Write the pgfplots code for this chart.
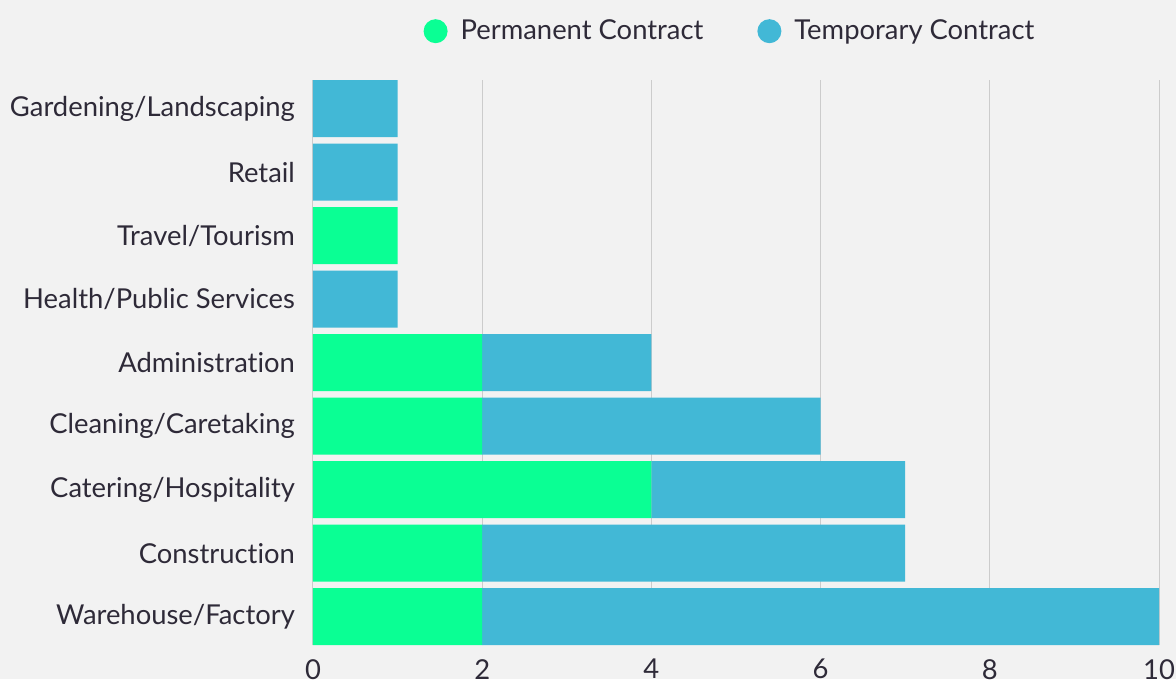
\documentclass[border=0pt]{standalone}
\usepackage{fontspec}
\setmainfont{Lato}[Ligatures=NoCommon]
\usepackage{pgfplots}
\pgfplotsset{compat=1.18}
\definecolor{bg}{HTML}{F2F2F2}
\definecolor{perm}{HTML}{0AFF94}
\definecolor{temp}{HTML}{42B8D6}
\definecolor{txt}{HTML}{2E2A38}
\definecolor{gridc}{HTML}{CCCCCC}
\begin{document}
\begin{tikzpicture}
\fill[bg] (-156.5pt,-16.9pt) rectangle (431.5pt,322.6pt);
\begin{axis}[
  width=423pt, height=282.6pt, scale only axis,
  xbar stacked, bar width=0.9,
  xmin=0, xmax=10, ymin=-0.45, ymax=8.45,
  xtick={0,2,4,6,8,10},
  ytick={0,...,8},
  yticklabels={Warehouse/Factory,Construction,Catering/Hospitality,Cleaning/Caretaking,Administration,Health/Public Services,Travel/Tourism,Retail,Gardening/Landscaping},
  axis line style={draw=none},
  major tick length=0pt,
  xmajorgrids, grid style={gridc, line width=0.5pt},
  tick label style={font=\fontsize{13.7}{15}\selectfont, text=txt},
  /pgf/number format/assume math mode=true,
  xticklabel style={yshift=-3.5pt},
  yticklabel style={xshift=-5.5pt},
  legend style={at={(0.5,1)}, anchor=south, xshift=-2.5pt, yshift=14.5pt, draw=none, fill=none,
    legend columns=2, font=\fontsize{13.7}{15}\selectfont, text=txt,
    /tikz/every even column/.append style={column sep=25pt}},
  legend image code/.code={\fill[#1] (0cm,0cm) circle (6pt); \path (-6pt,0) (10.5pt,0);},
  clip=false,
]
\addplot[fill=perm, draw=none] coordinates {(2,0) (2,1) (4,2) (2,3) (2,4) (0,5) (1,6) (0,7) (0,8)};
\addplot[fill=temp, draw=none] coordinates {(8,0) (5,1) (3,2) (4,3) (2,4) (1,5) (0,6) (1,7) (1,8)};
\legend{Permanent Contract, Temporary Contract}
\end{axis}
\pgfresetboundingbox
\path (-156.5pt,-16.9pt) rectangle (431.5pt,322.6pt);
\end{tikzpicture}
\end{document}
